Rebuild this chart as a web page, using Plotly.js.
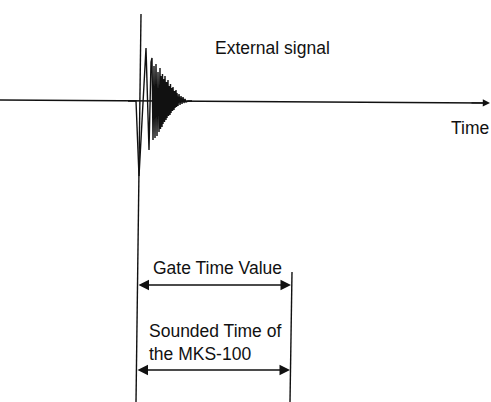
<!DOCTYPE html>
<html>
<head>
<meta charset="utf-8">
<script src="https://cdn.plot.ly/plotly-3.0.1.min.js"></script>
<style>html,body{margin:0;padding:0;background:#fff;}#chart{width:491px;height:402px;}</style>
</head>
<body>
<div id="chart"></div>
<script>
// Waveform vertices (diagram units: x to the right, y downward, baseline ~101)
const waveX = [128,136,139,146,149,151,152,153,154,155,156,157,158,159,160,160.5,161,162,162.5,163,164,164.5,165,166,166.5,167,168,168.5,169,170,170.5,171,172,172.5,173,174,174.5,175,176,176.5,177,178,179,180,181,182,183,184,185,186,188,192];
const waveY = [101,101,176,48,150,62,58,140,66,138,64,136,72,132,68,129,76,127,74,124,79,122,76,120,82,118,80,116,86,115,84,113,88,111,87,110,91,108,90,107,93,106,94,105,96,104,97,103,99,102,101,101];

// Straight guide lines [x0, y0, x1, y1]
const timeAxisLine = [0, 100, 490, 103];
const triggerLine = [141, 14, 136, 402];
const gateEndLine = [292, 272, 290, 402];

// Double arrows [xStart, xEnd, y]
const gateArrow = [137, 291, 285];
const soundArrow = [136, 290, 370];

// Labels
const labelTexts = ["External signal", "Time", "Gate Time Value", "Sounded Time of<br>the MKS-100"];
const labelX = [213, 449, 151, 147];
const labelY = [48, 128, 268, 342];

const ink = "#111111";
const font = {family: "Liberation Sans, Arial, sans-serif", size: 17.5, color: ink};

const traces = [
  {x: [timeAxisLine[0], timeAxisLine[2] - 6], y: [timeAxisLine[1], timeAxisLine[3]], mode: "lines", line: {color: ink, width: 1.3}, hoverinfo: "skip"},
  {x: [triggerLine[0], triggerLine[2]], y: [triggerLine[1], triggerLine[3]], mode: "lines", line: {color: ink, width: 1.4}, hoverinfo: "skip"},
  {x: [gateEndLine[0], gateEndLine[2]], y: [gateEndLine[1], gateEndLine[3]], mode: "lines", line: {color: ink, width: 1.4}, hoverinfo: "skip"},
  {x: waveX, y: waveY, mode: "lines", line: {color: ink, width: 1.4}, hoverinfo: "skip"}
];

const annotations = [];
annotations.push({x: timeAxisLine[2], y: timeAxisLine[3], ax: timeAxisLine[2] - 20, ay: timeAxisLine[3] - 0.1, xref: "x", yref: "y", axref: "x", ayref: "y", text: "", showarrow: true, arrowhead: 2, arrowsize: 1.2, arrowwidth: 1.2, arrowcolor: ink});
[gateArrow, soundArrow].forEach(a => {
  annotations.push({x: a[1], y: a[2], ax: a[0], ay: a[2], xref: "x", yref: "y", axref: "x", ayref: "y", text: "", showarrow: true, arrowhead: 2, arrowside: "end+start", arrowsize: 1.4, arrowwidth: 1.5, arrowcolor: ink});
});
labelTexts.forEach((t, i) => {
  annotations.push({x: labelX[i], y: labelY[i], xref: "x", yref: "y", text: t, showarrow: false, xanchor: "left", yanchor: "middle", align: "left", font: font});
});

const layout = {
  width: 491, height: 402,
  margin: {l: 0, r: 0, t: 0, b: 0},
  paper_bgcolor: "#ffffff", plot_bgcolor: "#ffffff",
  showlegend: false,
  xaxis: {range: [0, 491], visible: false, fixedrange: true},
  yaxis: {range: [402, 0], visible: false, fixedrange: true},
  annotations: annotations
};

Plotly.newPlot("chart", traces, layout, {staticPlot: true, displayModeBar: false});
</script>
</body>
</html>
